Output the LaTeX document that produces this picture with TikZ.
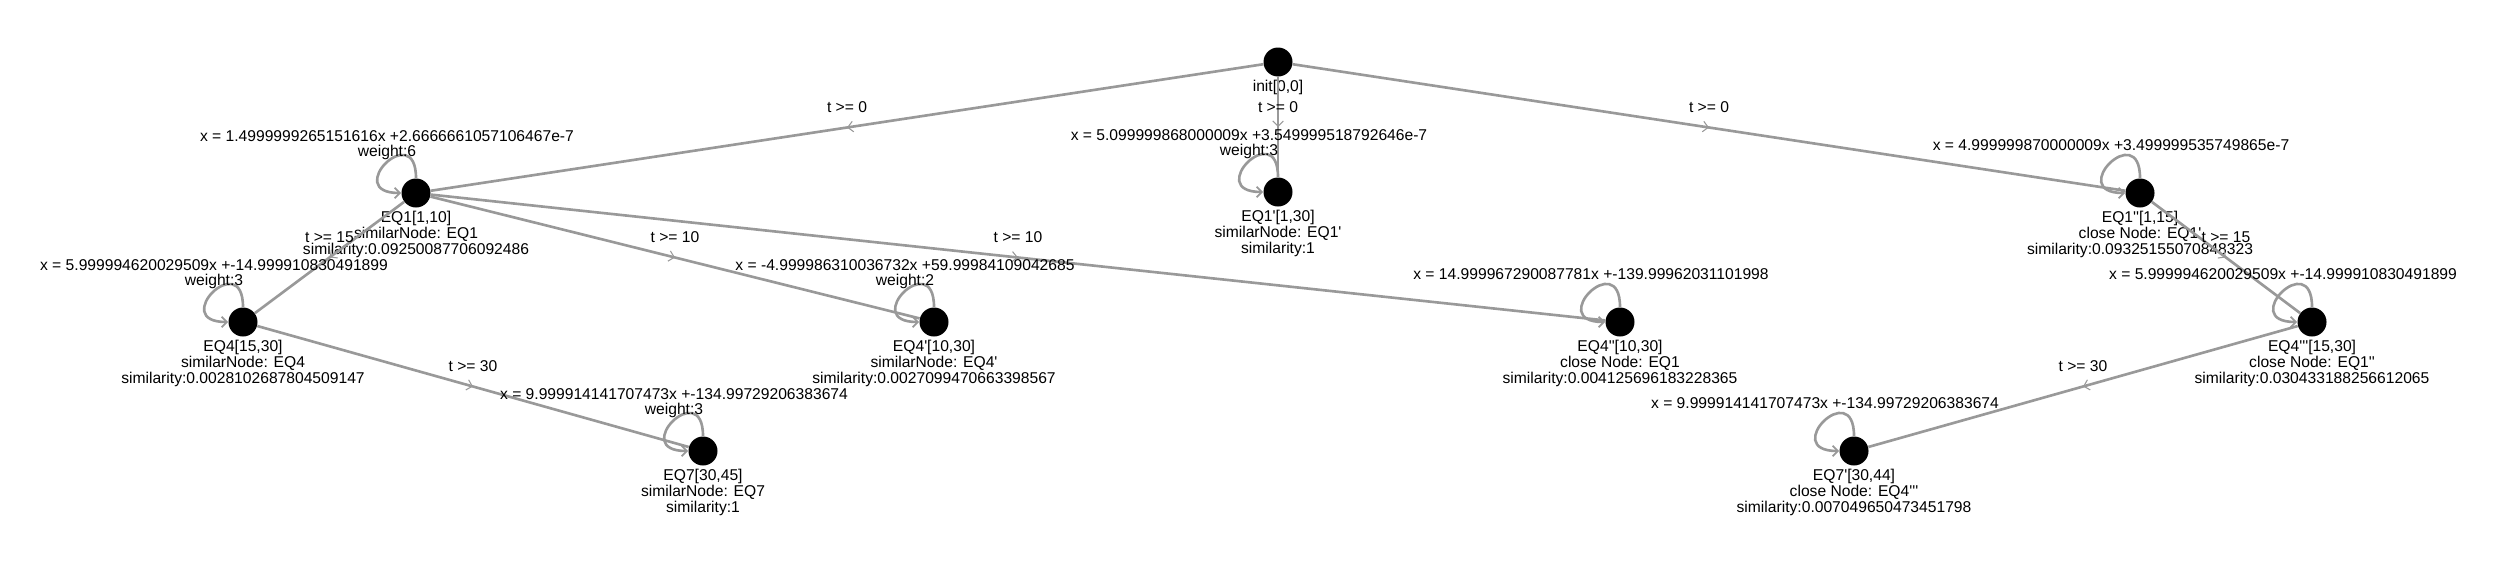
\documentclass[tikz,border=0pt]{standalone}
\usepackage{fontspec}
\setmainfont{Liberation Sans}
\usetikzlibrary{arrows.meta}
\usetikzlibrary{decorations.markings}
\definecolor{edgegray}{HTML}{999999}
\newcommand{\prm}{\textquotesingle}
\tikzset{
  eqnode/.style={circle, fill=black, minimum size=0.58cm, inner sep=0pt},
  eqtext/.style={font=\fontsize{8.9}{9.1}\selectfont, align=center, inner sep=0pt},
  looptext/.style={font=\fontsize{8.9}{8.5}\selectfont, align=center, inner sep=0pt},
  trans/.style={draw=edgegray, line width=1.5pt, postaction={decorate},
    decoration={markings, mark=at position 0.5 with {\arrow{Straight Barb[length=3pt, width=6pt, line width=0.6pt]}}}},
  selfloop/.style={draw=edgegray, line width=1.5pt, -{Straight Barb[length=3pt, width=6pt, line width=1pt]},
    out=90, in=180, distance=1.2cm},
  guard/.style={eqtext, midway, yshift=0.4cm},
  below label/.style={label={[eqtext, label distance=0.06cm]below:{#1}}},
}
\begin{document}
\begin{tikzpicture}[x=0.02cm, y=-0.02cm]
  \useasboundingbox (0,0) rectangle (2500,562);
  % states
  \node[eqnode, below label={init[0,0]}] (init) at (1278,62) {};
  \node[eqnode, below label={EQ1[1,10]\\similarNode: EQ1\\similarity:0.09250087706092486}] (EQ1) at (416,193) {};
  \node[eqnode, below label={EQ1\prm[1,30]\\similarNode: EQ1\prm\\similarity:1}] (EQ1p) at (1278,192) {};
  \node[eqnode, below label={EQ1\prm\prm[1,15]\\close Node: EQ1\prm\\similarity:0.09325155070848323}] (EQ1pp) at (2140,193) {};
  \node[eqnode, below label={EQ4[15,30]\\similarNode: EQ4\\similarity:0.0028102687804509147}] (EQ4) at (243,322) {};
  \node[eqnode, below label={EQ4\prm[10,30]\\similarNode: EQ4\prm\\similarity:0.0027099470663398567}] (EQ4p) at (934,322) {};
  \node[eqnode, below label={EQ4\prm\prm[10,30]\\close Node: EQ1\\similarity:0.004125696183228365}] (EQ4pp) at (1620,322) {};
  \node[eqnode, below label={EQ4\prm\prm\prm[15,30]\\close Node: EQ1\prm\prm\\similarity:0.030433188256612065}] (EQ4ppp) at (2312,322) {};
  \node[eqnode, below label={EQ7[30,45]\\similarNode: EQ7\\similarity:1}] (EQ7) at (703,451) {};
  \node[eqnode, below label={EQ7\prm[30,44]\\close Node: EQ4\prm\prm\prm\\similarity:0.007049650473451798}] (EQ7p) at (1854,451) {};

  % transitions
  \draw[trans] (init) -- (EQ1) node[guard] {t >= 0};
  \draw[trans] (init) -- (EQ1p) node[guard] {t >= 0};
  \draw[trans] (init) -- (EQ1pp) node[guard] {t >= 0};
  \draw[trans] (EQ1) -- (EQ4) node[guard] {t >= 15};
  \draw[trans] (EQ1) -- (EQ4p) node[guard] {t >= 10};
  \draw[trans] (EQ1) -- (EQ4pp) node[guard] {t >= 10};
  \draw[trans] (EQ4) -- (EQ7) node[guard] {t >= 30};
  \draw[trans] (EQ1pp) -- (EQ4ppp) node[guard] {t >= 15};
  \draw[trans] (EQ4ppp) -- (EQ7p) node[guard] {t >= 30};

  % self loops with the fitted equations
  \draw[selfloop] (EQ1) to (EQ1);
  \draw[selfloop] (EQ1p) to (EQ1p);
  \draw[selfloop] (EQ1pp) to (EQ1pp);
  \draw[selfloop] (EQ4) to (EQ4);
  \draw[selfloop] (EQ4p) to (EQ4p);
  \draw[selfloop] (EQ4pp) to (EQ4pp);
  \draw[selfloop] (EQ4ppp) to (EQ4ppp);
  \draw[selfloop] (EQ7) to (EQ7);
  \draw[selfloop] (EQ7p) to (EQ7p);
  \node[looptext] (EQ1fit) at ([shift={(-29,-48)}]EQ1) {x = 1.4999999265151616x +2.6666661057106467e-7\\weight:6};
  \node[looptext] (EQ1pfit) at ([shift={(-29,-48)}]EQ1p) {x = 5.099999868000009x +3.549999518792646e-7\\weight:3};
  \node[looptext] (EQ1ppfit) at ([shift={(-29,-48)}]EQ1pp) {x = 4.999999870000009x +3.499999535749865e-7};
  \node[looptext] (EQ4fit) at ([shift={(-29,-48)}]EQ4) {x = 5.999994620029509x +-14.999910830491899\\weight:3};
  \node[looptext] (EQ4pfit) at ([shift={(-29,-48)}]EQ4p) {x = -4.999986310036732x +59.99984109042685\\weight:2};
  \node[looptext] (EQ4ppfit) at ([shift={(-29,-48)}]EQ4pp) {x = 14.999967290087781x +-139.99962031101998};
  \node[looptext] (EQ4pppfit) at ([shift={(-29,-48)}]EQ4ppp) {x = 5.999994620029509x +-14.999910830491899};
  \node[looptext] (EQ7fit) at ([shift={(-29,-48)}]EQ7) {x = 9.999914141707473x +-134.99729206383674\\weight:3};
  \node[looptext] (EQ7pfit) at ([shift={(-29,-48)}]EQ7p) {x = 9.999914141707473x +-134.99729206383674};
\end{tikzpicture}
\end{document}
